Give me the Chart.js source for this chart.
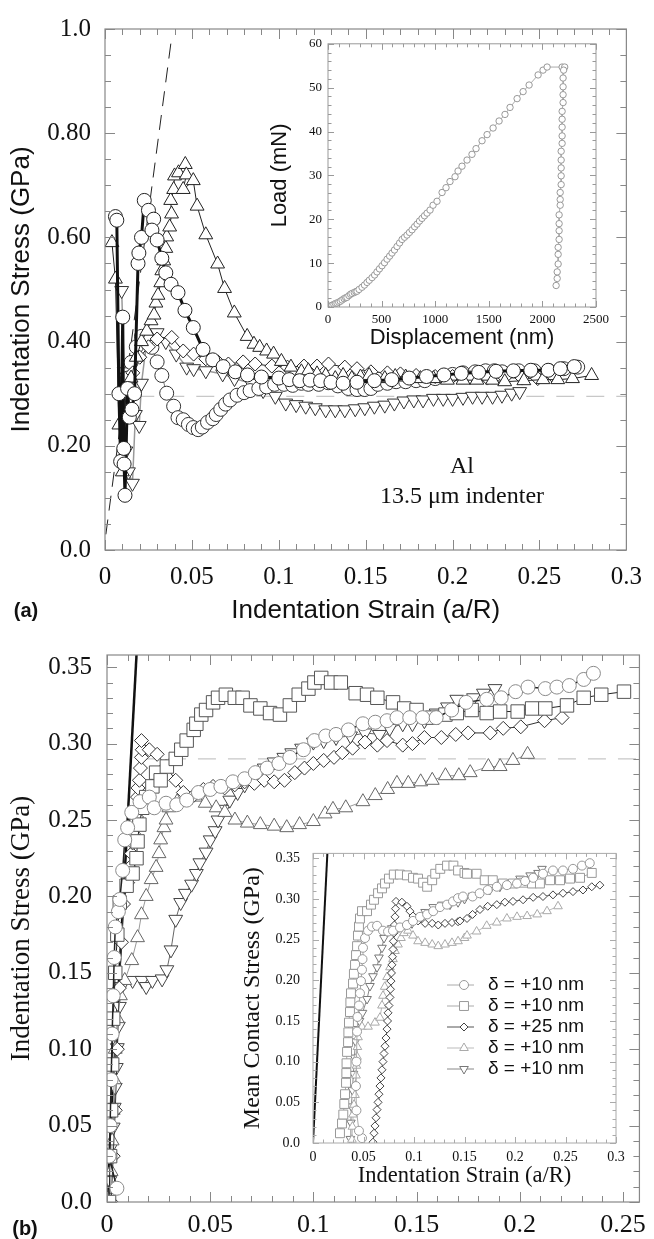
<!DOCTYPE html>
<html><head><meta charset="utf-8">
<script src="https://cdn.jsdelivr.net/npm/chart.js@4"></script>
<style>
html,body{margin:0;padding:0;background:#fff}
body{width:654px;height:1239px;position:relative;overflow:hidden}
canvas{position:absolute}
.t{position:absolute;transform:translate(-50%,-50%);white-space:nowrap;color:#111;line-height:1}
</style></head><body>
<canvas id="cA" width="654" height="630" style="left:0;top:0;width:654px;height:630px"></canvas>
<canvas id="cAi" width="364" height="330" style="left:256px;top:30px;width:364px;height:330px"></canvas>
<canvas id="cB" width="654" height="619" style="left:0;top:620px;width:654px;height:619px"></canvas>
<canvas id="cBi" width="400" height="360" style="left:236px;top:832px;width:400px;height:360px"></canvas>
<div class="t" style="left:26px;top:610px;font:bold 20px 'Liberation Sans'">(a)</div>
<div class="t" style="left:25px;top:1228px;font:bold 20px 'Liberation Sans'">(b)</div>
<div class="t" style="left:462px;top:465px;font:24px 'Liberation Serif'">Al</div>
<div class="t" style="left:462px;top:495px;font:24px 'Liberation Serif'">13.5 μm indenter</div>
<script>
// ---------- Panel (a) main ----------
const aXTicks = ['0','0.05','0.1','0.15','0.2','0.25','0.3'];
const aYTicks = ['0.0','0.20','0.40','0.60','0.80','1.0'];
const aTriUpX = [0.004,0.006,0.008,0.010,0.012,0.015,0.018,0.021,0.024,0.0265,0.0282,0.0293,0.0305,0.0321,0.0327,0.0338,0.035,0.0355,0.0372,0.0383,0.0378,0.0395,0.040,0.0423,0.0462,0.0468,0.045,0.0508,0.053,0.058,0.0648,0.0688,0.0744,0.0818,0.0857,0.089,0.093,0.097,0.1015,0.107,0.113,0.117,0.122,0.127,0.1325,0.137,0.142,0.147,0.152,0.161,0.167,0.173,0.1815,0.189,0.197,0.206,0.214,0.223,0.230,0.241,0.252,0.2605,0.269,0.280];
const aTriUpY = [0.59,0.52,0.24,0.15,0.30,0.33,0.37,0.40,0.42,0.44,0.451,0.474,0.489,0.513,0.536,0.555,0.579,0.601,0.620,0.645,0.671,0.692,0.718,0.724,0.740,0.720,0.692,0.709,0.660,0.605,0.549,0.502,0.455,0.410,0.395,0.389,0.382,0.376,0.362,0.351,0.342,0.344,0.338,0.335,0.329,0.335,0.329,0.332,0.335,0.329,0.333,0.332,0.329,0.329,0.326,0.326,0.326,0.326,0.323,0.325,0.327,0.327,0.329,0.335];
const aCircAX = [0.006,0.0068,0.008,0.009,0.0102,0.0108,0.011,0.0115,0.013,0.014,0.0155,0.017,0.019,0.0195,0.021,0.0226,0.025,0.028,0.027,0.030,0.0327,0.035,0.038,0.042,0.046,0.0508,0.0564,0.062,0.068,0.075,0.082,0.090,0.100,0.106,0.112,0.118,0.124,0.130,0.137,0.145,0.155,0.165,0.175,0.185,0.195,0.205,0.215,0.225,0.235,0.245,0.255,0.262,0.270];
const aCircAY = [0.64,0.633,0.30,0.17,0.447,0.195,0.165,0.105,0.31,0.255,0.27,0.30,0.55,0.57,0.60,0.671,0.652,0.635,0.614,0.595,0.56,0.532,0.51,0.494,0.46,0.427,0.385,0.365,0.352,0.342,0.336,0.332,0.330,0.327,0.325,0.326,0.325,0.322,0.320,0.322,0.325,0.327,0.330,0.333,0.336,0.339,0.341,0.343,0.344,0.345,0.345,0.348,0.352];
const aCircBX = [0.013,0.015,0.018,0.021,0.024,0.027,0.030,0.0327,0.0355,0.0395,0.042,0.045,0.048,0.0508,0.0536,0.056,0.059,0.062,0.064,0.0666,0.0694,0.072,0.076,0.080,0.0835,0.0885,0.093,0.0976,0.103,0.108,0.113,0.117,0.123,0.1285,0.134,0.140,0.145,0.1495,0.153,0.157,0.1625,0.1675,0.173,0.179,0.184,0.190,0.196,0.200,0.206,0.213,0.219,0.224,0.2285,0.238,0.247,0.2555,0.264,0.272];
const aCircBY = [0.33,0.36,0.39,0.41,0.405,0.389,0.361,0.335,0.301,0.276,0.254,0.250,0.241,0.235,0.231,0.236,0.245,0.252,0.260,0.270,0.280,0.288,0.297,0.302,0.306,0.310,0.313,0.318,0.318,0.316,0.320,0.318,0.318,0.321,0.315,0.310,0.308,0.308,0.310,0.318,0.320,0.323,0.323,0.325,0.325,0.329,0.333,0.337,0.340,0.342,0.344,0.344,0.342,0.344,0.344,0.344,0.348,0.351];
const aDiamX = [0.012,0.016,0.020,0.025,0.030,0.0384,0.045,0.051,0.058,0.065,0.071,0.0795,0.0864,0.096,0.105,0.1145,0.122,0.1286,0.138,0.145,0.153,0.1625,0.170,0.179,0.190,0.200,0.210,0.220,0.230,0.240,0.249,0.258];
const aDiamY = [0.30,0.34,0.37,0.39,0.405,0.408,0.382,0.376,0.367,0.361,0.357,0.361,0.357,0.353,0.351,0.353,0.353,0.357,0.351,0.348,0.342,0.340,0.338,0.335,0.333,0.333,0.331,0.330,0.331,0.330,0.329,0.333];
const aTriDnX = [0.0096,0.011,0.012,0.0135,0.0158,0.0175,0.0197,0.021,0.024,0.027,0.030,0.035,0.041,0.047,0.051,0.058,0.0677,0.0745,0.084,0.091,0.098,0.104,0.110,0.1155,0.121,0.127,0.1325,0.138,0.144,0.1495,0.155,0.161,0.1665,0.172,0.1777,0.183,0.189,0.1946,0.200,0.206,0.2115,0.217,0.223,0.2284,0.234,0.2386];
const aTriDnY = [0.498,0.342,0.19,0.15,0.128,0.26,0.239,0.32,0.40,0.41,0.417,0.400,0.376,0.351,0.348,0.344,0.338,0.329,0.320,0.306,0.295,0.282,0.279,0.276,0.273,0.269,0.269,0.269,0.271,0.273,0.276,0.278,0.282,0.286,0.288,0.288,0.291,0.291,0.291,0.293,0.295,0.295,0.295,0.297,0.301,0.304];
const aSlopeX = [0.0005,0.038];
const aSlopeY = [0.03,0.975];
const aRefX = [0.018,0.3];
const aRefY = [0.295,0.295];

// ---------- Panel (a) inset: load-displacement ----------
const iaXTicks = ['0','500','1000','1500','2000','2500'];
const iaYTicks = ['0','10','20','30','40','50','60'];
const iaDisp = [0,20,37,55,70,84,100,115,131,150,165,177,195,210,224,245,260,271,290,317,340,364,385,411,435,457,480,504,527,551,575,597,620,644,668,691,714,737,760,784,808,831,854,877,900,924,952,980,1017,1064,1101,1138,1185,1213,1250,1297,1343,1381,1437,1484,1540,1596,1651,1698,1764,1820,1876,1960,2006,2044,2184,2208,2198,2193,2193,2193,2193,2184,2184,2184,2184,2184,2175,2175,2175,2175,2175,2166,2166,2166,2156,2156,2156,2156,2147,2147,2147,2138,2138,2128];
const iaLoad = [0,0.2,0.4,0.6,0.8,0.9,1.1,1.3,1.6,1.9,2.1,2.2,2.6,2.9,3.1,3.3,3.5,3.6,4.0,4.5,5.0,5.6,6.1,6.7,7.3,8.0,8.7,9.4,10.1,10.9,11.6,12.3,13.0,13.8,14.6,15.4,15.9,16.4,17.0,17.6,18.3,18.9,19.6,20.2,20.8,21.4,22.1,23.2,24.1,26.1,27.2,28.6,29.7,31.0,32.1,33.5,34.8,36.1,37.9,39.3,40.8,42.4,43.9,45.5,47.5,49.1,50.6,52.9,54.0,54.7,54.7,54.7,54.0,52.2,50.2,48.4,46.6,44.6,42.8,41.0,39.0,37.3,35.5,33.5,31.7,29.9,27.9,26.1,24.5,23.2,21.0,19.0,17.4,15.4,13.6,12.0,9.8,8.0,6.5,4.9];

// ---------- Panel (b) main ----------
const bXTicks = ['0','0.05','0.1','0.15','0.2','0.25'];
const bYTicks = ['0.0','0.05','0.10','0.15','0.20','0.25','0.30','0.35'];
const bCircX = [0.0048,0.001,0.0015,0.002,0.0025,0.003,0.0035,0.004,0.0055,0.0062,0.0076,0.0086,0.010,0.012,0.016,0.0205,0.0229,0.0286,0.0338,0.0386,0.0443,0.050,0.0552,0.061,0.0667,0.0719,0.0776,0.0833,0.0886,0.0952,0.1005,0.106,0.111,0.117,0.124,0.130,0.1357,0.1405,0.1467,0.153,0.1595,0.167,0.174,0.184,0.191,0.198,0.204,0.2124,0.218,0.224,0.231,0.2357];
const bCircY = [0.009,0.03,0.05,0.08,0.11,0.135,0.16,0.18,0.19,0.198,0.217,0.237,0.245,0.255,0.262,0.265,0.258,0.261,0.260,0.263,0.268,0.270,0.272,0.275,0.277,0.281,0.284,0.287,0.291,0.296,0.302,0.305,0.306,0.309,0.313,0.314,0.315,0.317,0.317,0.317,0.317,0.322,0.327,0.329,0.330,0.334,0.337,0.336,0.337,0.338,0.342,0.346];
const bSqX = [0.001,0.0015,0.002,0.0025,0.003,0.004,0.005,0.0062,0.0095,0.0124,0.0143,0.0148,0.0157,0.0171,0.019,0.022,0.0238,0.026,0.029,0.0333,0.036,0.0386,0.042,0.0433,0.0457,0.048,0.0514,0.0538,0.0576,0.0619,0.0657,0.0695,0.0743,0.079,0.0838,0.0886,0.0929,0.0976,0.1005,0.1038,0.1086,0.1133,0.1205,0.126,0.131,0.1386,0.144,0.150,0.1576,0.164,0.1695,0.1767,0.184,0.1905,0.199,0.206,0.2124,0.2229,0.231,0.2395,0.2505];
const bSqY = [0.0,0.03,0.06,0.09,0.12,0.15,0.175,0.196,0.207,0.215,0.225,0.236,0.247,0.258,0.265,0.272,0.281,0.276,0.285,0.290,0.296,0.302,0.309,0.313,0.319,0.322,0.327,0.330,0.332,0.330,0.330,0.325,0.323,0.320,0.319,0.325,0.332,0.336,0.340,0.343,0.340,0.340,0.333,0.332,0.330,0.327,0.323,0.322,0.317,0.319,0.320,0.322,0.320,0.321,0.321,0.323,0.323,0.325,0.330,0.332,0.334];
const bDiamX = [0.002,0.003,0.004,0.005,0.006,0.007,0.008,0.010,0.011,0.0119,0.0124,0.0128,0.0143,0.0148,0.0150,0.0157,0.0162,0.0167,0.0171,0.0167,0.0205,0.0243,0.0286,0.0333,0.037,0.042,0.0467,0.0514,0.057,0.0619,0.0667,0.0714,0.0762,0.081,0.086,0.091,0.0957,0.100,0.105,0.110,0.114,0.119,0.125,0.131,0.1357,0.1433,0.148,0.1538,0.162,0.169,0.175,0.1857,0.192,0.2005,0.212,0.2205];
const bDiamY = [0.0,0.03,0.06,0.10,0.14,0.17,0.195,0.209,0.219,0.228,0.235,0.241,0.252,0.265,0.271,0.276,0.284,0.291,0.296,0.302,0.296,0.293,0.285,0.276,0.268,0.266,0.270,0.272,0.271,0.273,0.275,0.274,0.276,0.275,0.276,0.281,0.284,0.287,0.289,0.291,0.294,0.297,0.301,0.299,0.302,0.299,0.300,0.304,0.304,0.306,0.307,0.307,0.310,0.311,0.315,0.317];
const bTriUpX = [0.0014,0.002,0.0025,0.003,0.0035,0.004,0.005,0.0065,0.0086,0.012,0.0148,0.0167,0.019,0.0214,0.0238,0.0252,0.026,0.0276,0.0286,0.030,0.034,0.038,0.0429,0.0476,0.0529,0.0571,0.062,0.068,0.0743,0.081,0.0871,0.0933,0.100,0.1057,0.1095,0.1157,0.124,0.130,0.136,0.1405,0.146,0.152,0.1576,0.164,0.1705,0.176,0.1848,0.1905,0.1967,0.2038];
const bTriUpY = [0.001,0.02,0.04,0.06,0.08,0.10,0.12,0.135,0.145,0.158,0.173,0.188,0.200,0.211,0.219,0.228,0.237,0.245,0.250,0.258,0.262,0.263,0.265,0.261,0.258,0.255,0.250,0.248,0.247,0.246,0.245,0.247,0.249,0.254,0.257,0.258,0.262,0.266,0.270,0.274,0.274,0.275,0.276,0.279,0.279,0.281,0.285,0.285,0.289,0.293];
const bTriDnX = [0.0014,0.002,0.003,0.0035,0.004,0.0045,0.005,0.0055,0.006,0.007,0.0124,0.017,0.019,0.022,0.0267,0.029,0.031,0.0333,0.0357,0.038,0.041,0.0433,0.045,0.048,0.050,0.0524,0.0538,0.0562,0.0595,0.0633,0.0667,0.0714,0.0762,0.081,0.0857,0.0895,0.0943,0.100,0.105,0.111,0.118,0.125,0.132,0.137,0.1433,0.148,0.1538,0.1595,0.165,0.1695,0.1776,0.1824,0.188];
const bTriDnY = [0.014,0.036,0.049,0.062,0.075,0.088,0.101,0.115,0.128,0.141,0.145,0.145,0.141,0.145,0.146,0.152,0.165,0.185,0.196,0.202,0.208,0.215,0.222,0.229,0.237,0.243,0.250,0.257,0.263,0.268,0.273,0.278,0.284,0.288,0.291,0.294,0.297,0.301,0.302,0.304,0.305,0.307,0.306,0.310,0.313,0.313,0.315,0.320,0.324,0.329,0.330,0.333,0.336];
const bSlopeX = [0.0,0.0143];
const bSlopeY = [0.0,0.358];
const bRefX = [0.015,0.258];
const bRefY = [0.29,0.29];

// ---------- Panel (b) inset ----------
const ibXTicks = ['0','0.05','0.1','0.15','0.2','0.25','0.3'];
const ibYTicks = ['0.0','0.05','0.10','0.15','0.20','0.25','0.30','0.35'];
const ibLegend = ['δ = +10 nm','δ = +10 nm','δ = +25 nm','δ = +10 nm','δ = +10 nm'];
const ibCircX = [0.0485,0.0455,0.043,0.0425,0.043,0.0436,0.044,0.0455,0.0465,0.0475,0.0485,0.049,0.0495,0.0515,0.0545,0.0584,0.0634,0.0693,0.0743,0.0792,0.0861,0.093,0.099,0.106,0.113,0.119,0.1257,0.1327,0.1386,0.1436,0.1485,0.158,0.165,0.173,0.182,0.192,0.202,0.210,0.218,0.2277,0.2376,0.2475,0.2574,0.2663,0.274];
const ibCircY = [0.006,0.015,0.04,0.07,0.10,0.137,0.155,0.169,0.184,0.199,0.213,0.226,0.240,0.252,0.261,0.266,0.267,0.261,0.260,0.261,0.265,0.268,0.273,0.278,0.281,0.285,0.290,0.293,0.297,0.301,0.303,0.303,0.307,0.311,0.315,0.317,0.319,0.322,0.326,0.331,0.335,0.335,0.337,0.341,0.344];
const ibSqX = [0.0267,0.0287,0.030,0.031,0.0317,0.0327,0.0330,0.0332,0.0337,0.0347,0.0350,0.0356,0.0366,0.0370,0.0376,0.0396,0.0405,0.0416,0.0426,0.0436,0.0445,0.0455,0.0465,0.0485,0.0535,0.0574,0.0604,0.0644,0.0683,0.0713,0.0752,0.080,0.086,0.093,0.099,0.104,0.109,0.113,0.118,0.121,0.126,0.1327,0.139,0.1436,0.150,0.1525,0.162,0.170,0.178,0.188,0.198,0.208,0.2168,0.2247,0.2347,0.2446,0.2545,0.2644,0.276];
const ibSqY = [0.012,0.024,0.035,0.048,0.060,0.074,0.086,0.098,0.112,0.124,0.136,0.148,0.161,0.173,0.184,0.196,0.208,0.219,0.231,0.242,0.255,0.266,0.276,0.285,0.285,0.293,0.299,0.307,0.313,0.319,0.325,0.330,0.330,0.329,0.326,0.325,0.320,0.315,0.323,0.331,0.337,0.341,0.341,0.335,0.332,0.331,0.331,0.323,0.323,0.319,0.319,0.320,0.319,0.319,0.323,0.323,0.325,0.326,0.332];
const ibDiamX = [0.0594,0.0604,0.0614,0.0624,0.0634,0.0644,0.0653,0.0663,0.0673,0.0683,0.0693,0.0703,0.0713,0.0723,0.0733,0.0738,0.0743,0.0752,0.0762,0.0767,0.0772,0.0777,0.0782,0.0787,0.0792,0.0796,0.080,0.0806,0.0812,0.0817,0.0822,0.088,0.093,0.096,0.099,0.104,0.111,0.118,0.124,0.1307,0.1376,0.1436,0.1455,0.1525,0.158,0.1653,0.173,0.182,0.190,0.198,0.208,0.218,0.2277,0.2376,0.2475,0.2574,0.2673,0.276,0.284];
const ibDiamY = [0.001,0.012,0.021,0.031,0.041,0.050,0.060,0.070,0.080,0.090,0.100,0.110,0.119,0.129,0.140,0.150,0.160,0.169,0.179,0.189,0.199,0.209,0.219,0.229,0.238,0.248,0.258,0.268,0.278,0.288,0.297,0.296,0.291,0.285,0.279,0.273,0.270,0.270,0.268,0.270,0.271,0.272,0.273,0.276,0.281,0.287,0.291,0.293,0.296,0.297,0.299,0.302,0.303,0.305,0.307,0.309,0.311,0.315,0.317];
const ibTriUpX = [0.0386,0.039,0.0396,0.0406,0.0416,0.042,0.0426,0.043,0.0436,0.044,0.0446,0.0485,0.0545,0.0614,0.0663,0.0683,0.0693,0.071,0.0733,0.0762,0.0792,0.0812,0.0842,0.0871,0.090,0.094,0.099,0.104,0.111,0.118,0.124,0.1307,0.1376,0.1436,0.150,0.1525,0.162,0.172,0.182,0.192,0.202,0.212,0.222,0.2317,0.2426];
const ibTriUpY = [0.004,0.020,0.035,0.047,0.059,0.071,0.083,0.095,0.106,0.118,0.130,0.143,0.143,0.148,0.154,0.169,0.181,0.192,0.204,0.216,0.226,0.236,0.244,0.252,0.258,0.261,0.255,0.248,0.246,0.244,0.242,0.244,0.246,0.248,0.252,0.255,0.260,0.267,0.271,0.276,0.278,0.279,0.281,0.285,0.291];
const ibTriDnX = [0.037,0.0375,0.038,0.039,0.040,0.041,0.042,0.043,0.046,0.049,0.0535,0.0564,0.0594,0.0634,0.0653,0.0683,0.0703,0.0733,0.078,0.085,0.092,0.098,0.104,0.111,0.119,0.1277,0.1356,0.1436,0.150,0.158,0.166,0.175,0.185,0.195,0.205,0.215,0.2228,0.2267];
const ibTriDnY = [0.005,0.025,0.045,0.065,0.085,0.105,0.125,0.140,0.150,0.160,0.177,0.193,0.205,0.216,0.228,0.240,0.252,0.260,0.264,0.265,0.266,0.270,0.278,0.284,0.290,0.293,0.293,0.296,0.300,0.304,0.307,0.311,0.315,0.319,0.325,0.329,0.332,0.337];

// ---------- helpers ----------
const SERIF = "'Liberation Serif', 'Times New Roman', serif";
const SANS = "'Liberation Sans', Arial, sans-serif";
const pts = (xs, ys) => xs.map((x, i) => ({x, y: ys[i]}));
function series(xs, ys, o) {
  return Object.assign({data: pts(xs, ys), showLine: true, fill: false, tension: 0,
    borderWidth: 1, pointBorderWidth: 1, pointBackgroundColor: '#fff', pointHoverRadius: 0}, o);
}
function refLine(xs, ys, color, width, dash) {
  return {data: pts(xs, ys), showLine: true, fill: false, borderColor: color, borderWidth: width,
    borderDash: dash || [], pointRadius: 0, pointHoverRadius: 0};
}
const lab = (arr, step) => (v) => { const k = Math.round(v / step); return Math.abs(v / step - k) < 1e-6 ? arr[k] : ''; };

const frameTicks = {
  id: 'frameTicks',
  beforeDatasetsDraw(chart, args, o) {
    if (!o.white) return;
    const a = chart.chartArea, c = chart.ctx;
    c.save(); c.fillStyle = '#fff'; c.fillRect(a.left, a.top, a.right - a.left, a.bottom - a.top); c.restore();
  },
  afterDatasetsDraw(chart, args, o) {
    const a = chart.chartArea, c = chart.ctx, xs = chart.scales.x, ys = chart.scales.y;
    c.save();
    c.strokeStyle = o.color; c.lineWidth = o.lw || 1;
    c.beginPath();
    const isMaj = (v, m) => Math.abs(v / m - Math.round(v / m)) < 1e-6;
    for (let k = 0; ; k++) {
      const v = xs.min + k * o.xMin; if (v > xs.max + 1e-9) break;
      const p = Math.round(xs.getPixelForValue(v)) + 0.5, L = isMaj(v, o.xMaj) ? o.majLen : o.minLen;
      c.moveTo(p, a.bottom); c.lineTo(p, a.bottom - L);
      c.moveTo(p, a.top); c.lineTo(p, a.top + L);
    }
    for (let k = 0; ; k++) {
      const v = ys.min + k * o.yMin; if (v > ys.max + 1e-9) break;
      const p = Math.round(ys.getPixelForValue(v)) + 0.5, L = isMaj(v, o.yMaj) ? o.majLen : o.minLen;
      c.moveTo(a.left, p); c.lineTo(a.left + L, p);
      c.moveTo(a.right, p); c.lineTo(a.right - L, p);
    }
    c.stroke();
    c.lineWidth = o.frameW || 1.2;
    c.strokeRect(a.left, a.top, a.right - a.left, a.bottom - a.top);
    c.restore();
  }
};

const insetLegend = {
  id: 'insetLegend',
  afterDraw(chart, args, o) {
    if (!o.labels) return;
    const c = chart.ctx;
    c.save();
    o.labels.forEach((t, i) => {
      const ds = chart.data.datasets[i];
      const y = o.y0 + i * o.dy;
      c.strokeStyle = ds.borderColor; c.lineWidth = 1;
      c.beginPath(); c.moveTo(o.x0, y); c.lineTo(o.x1, y); c.stroke();
      c.fillStyle = '#fff'; c.strokeStyle = ds.pointBorderColor; c.lineWidth = 1;
      Chart.helpers.drawPoint(c, {pointStyle: ds.pointStyle, radius: ds.pointRadius, rotation: ds.pointRotation || 0, borderWidth: 1}, o.xm, y);
      c.fillStyle = '#111'; c.font = o.font; c.textBaseline = 'middle'; c.textAlign = 'left';
      c.fillText(t, o.xt, y);
    });
    c.restore();
  }
};

function axis(cfg) {
  return {
    type: 'linear', min: cfg.min, max: cfg.max, position: cfg.pos,
    grid: {display: false, drawTicks: false}, border: {display: false},
    ticks: {stepSize: cfg.step, autoSkip: false, includeBounds: false, maxRotation: 0, minRotation: 0,
      padding: cfg.pad, color: '#111', font: {family: SERIF, size: cfg.fs}, callback: lab(cfg.labels, cfg.step)},
    title: {display: true, text: cfg.title, color: '#111', font: {family: cfg.tf, size: cfg.tfs, lineHeight: 1.2}, padding: cfg.tpad},
    afterFit: (s) => { if (cfg.pos === 'left') s.width = cfg.size; else s.height = cfg.size; }
  };
}

function makeChart(id, datasets, xAx, yAx, padding, ft, legend) {
  return new Chart(document.getElementById(id), {
    type: 'scatter',
    data: {datasets},
    options: {
      responsive: false, animation: false, events: [],
      layout: {padding},
      scales: {x: axis(xAx), y: axis(yAx)},
      plugins: {legend: {display: false}, tooltip: {enabled: false}, frameTicks: ft, insetLegend: legend || {}}
    },
    plugins: [frameTicks, insetLegend]
  });
}

// ---------- Chart (a) ----------
makeChart('cA', [
  series(aCircAX, aCircAY, {borderColor: '#111', borderWidth: 3, pointBorderColor: '#222', pointStyle: 'circle', pointRadius: 7}),
  series(aTriUpX, aTriUpY, {borderColor: '#222', pointBorderColor: '#222', pointStyle: 'triangle', pointRadius: 8}),
  series(aDiamX, aDiamY, {borderColor: '#222', pointBorderColor: '#222', pointStyle: 'rectRot', pointRadius: 7}),
  series(aCircBX, aCircBY, {borderColor: '#777', pointBorderColor: '#333', pointStyle: 'circle', pointRadius: 7}),
  series(aTriDnX, aTriDnY, {borderColor: '#999', borderWidth: 1.5, pointBorderColor: '#333', pointStyle: 'triangle', pointRotation: 180, pointRadius: 8}),
  refLine(aSlopeX, aSlopeY, '#222', 1, [15, 9]),
  refLine(aRefX, aRefY, '#c8c8c8', 1.2, [18, 12])
],
  {min: 0, max: 0.3, step: 0.05, labels: aXTicks, pos: 'bottom', pad: 12, fs: 25, title: 'Indentation Strain (a/R)', tf: SANS, tfs: 26, tpad: {top: 0, bottom: 4}, size: 80},
  {min: 0, max: 1.0, step: 0.2, labels: aYTicks, pos: 'left', pad: 14, fs: 25, title: 'Indentation Stress (GPa)', tf: SANS, tfs: 26, tpad: {top: 6, bottom: 0}, size: 105},
  {left: 0, top: 18, right: 17, bottom: 0},
  {color: '#888', xMaj: 0.05, xMin: 0.01, yMaj: 0.2, yMin: 0.05, majLen: 10, minLen: 6}
);

// ---------- Chart (a) inset ----------
makeChart('cAi', [
  series(iaDisp, iaLoad, {borderColor: '#aaa', pointBorderColor: '#999', pointStyle: 'circle', pointRadius: 3.2})
],
  {min: 0, max: 2500, step: 500, labels: iaXTicks, pos: 'bottom', pad: 5, fs: 13, title: 'Displacement (nm)', tf: SANS, tfs: 22, tpad: {top: 0, bottom: 9}, size: 53},
  {min: 0, max: 60, step: 10, labels: iaYTicks, pos: 'left', pad: 6, fs: 13, title: 'Load (mN)', tf: SANS, tfs: 22, tpad: {top: 11, bottom: 0}, size: 72},
  {left: 0, top: 8, right: 24, bottom: 0},
  {color: '#999', xMaj: 500, xMin: 100, yMaj: 10, yMin: 2, majLen: 6, minLen: 3.5, white: true, frameW: 1}
);

// ---------- Chart (b) ----------
makeChart('cB', [
  series(bCircX, bCircY, {borderColor: '#222', borderWidth: 1.5, pointBorderColor: '#8a8a8a', pointStyle: 'circle', pointRadius: 7}),
  series(bSqX, bSqY, {borderColor: '#222', pointBorderColor: '#555', pointStyle: 'rect', pointRadius: 9.5}),
  series(bDiamX, bDiamY, {borderColor: '#333', pointBorderColor: '#333', pointStyle: 'rectRot', pointRadius: 7}),
  series(bTriUpX, bTriUpY, {borderColor: '#999', pointBorderColor: '#666', pointStyle: 'triangle', pointRadius: 8}),
  series(bTriDnX, bTriDnY, {borderColor: '#666', pointBorderColor: '#444', pointStyle: 'triangle', pointRotation: 180, pointRadius: 8}),
  refLine(bSlopeX, bSlopeY, '#111', 2.5),
  refLine(bRefX, bRefY, '#c8c8c8', 1.2, [18, 12])
],
  {min: 0, max: 0.258, step: 0.05, labels: bXTicks, pos: 'bottom', pad: 8, fs: 26, title: '', tf: SERIF, tfs: 10, tpad: 0, size: 37},
  {min: 0, max: 0.358, step: 0.05, labels: bYTicks, pos: 'left', pad: 15, fs: 25, title: 'Indentation Stress (GPa)', tf: SERIF, tfs: 27, tpad: {top: 6, bottom: 0}, size: 107},
  {left: 0, top: 35, right: 5, bottom: 0},
  {color: '#888', xMaj: 0.05, xMin: 0.01, yMaj: 0.05, yMin: 0.01, majLen: 10, minLen: 6}
);

// ---------- Chart (b) inset ----------
makeChart('cBi', [
  series(ibCircX, ibCircY, {borderColor: '#aaa', pointBorderColor: '#999', pointStyle: 'circle', pointRadius: 4.5}),
  series(ibSqX, ibSqY, {borderColor: '#aaa', pointBorderColor: '#999', pointStyle: 'rect', pointRadius: 6.3}),
  series(ibDiamX, ibDiamY, {borderColor: '#555', pointBorderColor: '#444', pointStyle: 'rectRot', pointRadius: 4}),
  series(ibTriUpX, ibTriUpY, {borderColor: '#bbb', pointBorderColor: '#aaa', pointStyle: 'triangle', pointRadius: 5}),
  series(ibTriDnX, ibTriDnY, {borderColor: '#888', pointBorderColor: '#777', pointStyle: 'triangle', pointRotation: 180, pointRadius: 5}),
  refLine(bSlopeX, [0.0, 0.358].map((v, i) => v), '#111', 2)
],
  {min: 0, max: 0.3, step: 0.05, labels: ibXTicks, pos: 'bottom', pad: 6, fs: 14, title: 'Indentation Strain (a/R)', tf: SERIF, tfs: 22.5, tpad: {top: 0, bottom: 2}, size: 49},
  {min: 0, max: 0.356, step: 0.05, labels: ibYTicks, pos: 'left', pad: 13, fs: 14, title: 'Mean Contact Stress (GPa)', tf: SERIF, tfs: 24, tpad: {top: 2, bottom: 0}, size: 77},
  {left: 0, top: 10, right: 20, bottom: 0},
  {color: '#aaa', xMaj: 0.05, xMin: 0.01, yMaj: 0.05, yMin: 0.01, majLen: 6, minLen: 3.5, white: true, frameW: 1},
  {labels: ibLegend, x0: 211, x1: 238, xm: 228, xt: 252, y0: 153, dy: 21, font: "19px " + SANS}
);
</script>
</body></html>
